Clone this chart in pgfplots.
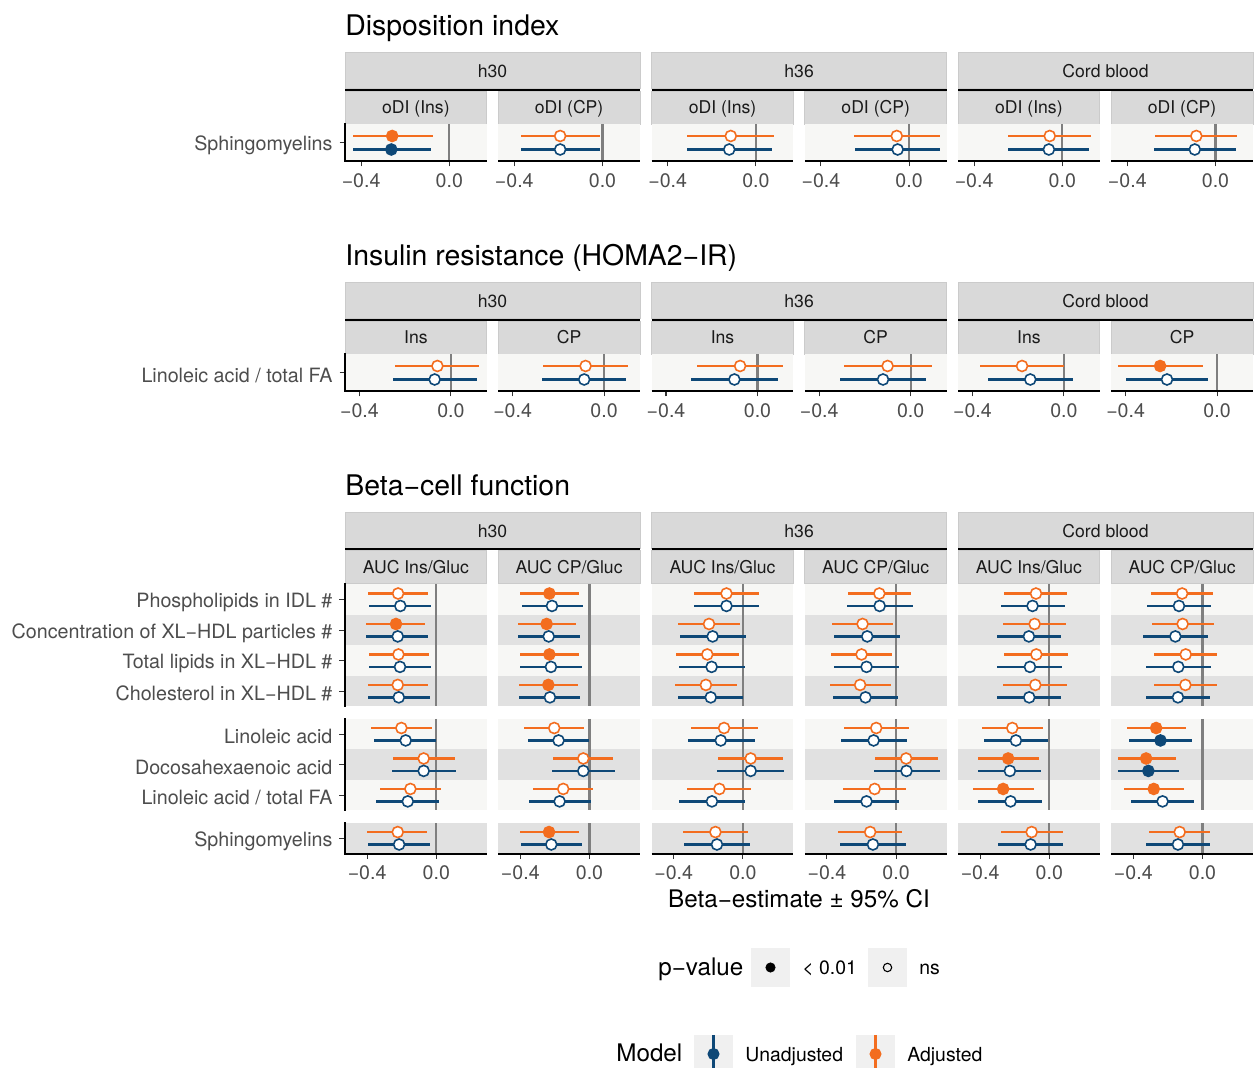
\documentclass[border=0pt]{standalone}
\usepackage{fontspec}
\setmainfont{TeX Gyre Heros}
\usepackage{pgfplots}
\pgfplotsset{compat=1.18}
\usepackage{pgfplotstable}

\definecolor{co}{HTML}{F36D1F}
\definecolor{cb}{HTML}{0E4877}
\definecolor{lbg}{HTML}{F7F7F5}
\definecolor{gbg}{HTML}{E1E1E1}
\definecolor{sbg}{HTML}{D9D9D9}
\definecolor{sbd}{HTML}{CBCBCB}
\definecolor{zc}{HTML}{7F7F7F}
\definecolor{labc}{HTML}{4D4D4D}
\definecolor{tickc}{HTML}{333333}
\definecolor{stc}{HTML}{1A1A1A}
\definecolor{kbg}{HTML}{F0F0F0}

\newcommand{\tickfont}{\fontsize{9.8pt}{11pt}\selectfont}
\newcommand{\ylabfont}{\fontsize{9.85pt}{11pt}\selectfont}
\newcommand{\stripfont}{\fontsize{8.8pt}{10pt}\selectfont}
\newcommand{\titlefont}{\fontsize{14.2pt}{16pt}\selectfont}
\newcommand{\legtfont}{\fontsize{12.1pt}{14pt}\selectfont}
\newcommand{\legfont}{\fontsize{9.7pt}{11pt}\selectfont}

% ---------- Section 1: Disposition index ----------
\pgfplotstableread{
y oe ol oh os be bl bh bs
0.5 -0.259 -0.437 -0.076 1 -0.263 -0.437 -0.084 1
}\dAa
\pgfplotstableread{
y oe ol oh os be bl bh bs
0.5 -0.192 -0.370 -0.011 0 -0.192 -0.370 -0.011 0
}\dAb
\pgfplotstableread{
y oe ol oh os be bl bh bs
0.5 -0.114 -0.311 0.082 0 -0.121 -0.311 0.072 0
}\dAc
\pgfplotstableread{
y oe ol oh os be bl bh bs
0.5 -0.056 -0.252 0.140 0 -0.052 -0.245 0.140 0
}\dAd
\pgfplotstableread{
y oe ol oh os be bl bh bs
0.5 -0.057 -0.247 0.129 0 -0.061 -0.247 0.122 0
}\dAe
\pgfplotstableread{
y oe ol oh os be bl bh bs
0.5 -0.087 -0.274 0.098 0 -0.094 -0.279 0.094 0
}\dAf
% ---------- Section 2: Insulin resistance ----------
\pgfplotstableread{
y oe ol oh os be bl bh bs
0.5 -0.059 -0.243 0.123 0 -0.071 -0.255 0.112 0
}\dBa
\pgfplotstableread{
y oe ol oh os be bl bh bs
0.5 -0.081 -0.265 0.104 0 -0.087 -0.271 0.096 0
}\dBb
\pgfplotstableread{
y oe ol oh os be bl bh bs
0.5 -0.076 -0.264 0.112 0 -0.101 -0.289 0.088 0
}\dBc
\pgfplotstableread{
y oe ol oh os be bl bh bs
0.5 -0.101 -0.291 0.091 0 -0.121 -0.307 0.069 0
}\dBd
\pgfplotstableread{
y oe ol oh os be bl bh bs
0.5 -0.183 -0.367 0.000 0 -0.147 -0.332 0.040 0
}\dBe
\pgfplotstableread{
y oe ol oh os be bl bh bs
0.5 -0.249 -0.433 -0.062 1 -0.219 -0.400 -0.038 0
}\dBf
% ---------- Section 3: Beta-cell function ----------
\pgfplotstableread{
y oe ol oh os be bl bh bs
0.5 -0.221 -0.396 -0.048 0 -0.208 -0.387 -0.029 0
1.5 -0.233 -0.408 -0.063 1 -0.223 -0.404 -0.048 0
2.5 -0.219 -0.390 -0.044 0 -0.210 -0.388 -0.031 0
3.5 -0.223 -0.396 -0.050 0 -0.217 -0.396 -0.038 0
4.9145 -0.202 -0.379 -0.027 0 -0.177 -0.362 0.000 0
5.9145 -0.073 -0.250 0.106 0 -0.073 -0.256 0.112 0
6.9145 -0.150 -0.327 0.027 0 -0.165 -0.348 0.015 0
8.329 -0.223 -0.400 -0.052 0 -0.215 -0.396 -0.035 0
}\dCa
\pgfplotstableread{
y oe ol oh os be bl bh bs
0.5 -0.232 -0.400 -0.059 1 -0.217 -0.392 -0.036 0
1.5 -0.248 -0.413 -0.078 1 -0.236 -0.411 -0.057 0
2.5 -0.232 -0.400 -0.061 1 -0.223 -0.400 -0.042 0
3.5 -0.238 -0.406 -0.067 1 -0.229 -0.406 -0.053 0
4.9145 -0.204 -0.377 -0.030 0 -0.179 -0.358 -0.004 0
5.9145 -0.036 -0.211 0.137 0 -0.036 -0.219 0.145 0
6.9145 -0.152 -0.326 0.019 0 -0.173 -0.352 0.008 0
8.329 -0.234 -0.400 -0.063 1 -0.221 -0.398 -0.042 0
}\dCb
\pgfplotstableread{
y oe ol oh os be bl bh bs
0.5 -0.095 -0.282 0.091 0 -0.095 -0.285 0.095 0
1.5 -0.196 -0.377 -0.017 0 -0.175 -0.363 0.017 0
2.5 -0.206 -0.388 -0.025 0 -0.181 -0.367 0.012 0
3.5 -0.214 -0.394 -0.033 0 -0.186 -0.373 0.002 0
4.9145 -0.109 -0.301 0.085 0 -0.128 -0.317 0.068 0
5.9145 0.045 -0.144 0.233 0 0.045 -0.150 0.237 0
6.9145 -0.136 -0.322 0.049 0 -0.179 -0.369 0.014 0
8.329 -0.159 -0.346 0.027 0 -0.150 -0.342 0.041 0
}\dCc
\pgfplotstableread{
y oe ol oh os be bl bh bs
0.5 -0.097 -0.280 0.085 0 -0.095 -0.285 0.095 0
1.5 -0.194 -0.371 -0.016 0 -0.167 -0.357 0.021 0
2.5 -0.200 -0.379 -0.023 0 -0.171 -0.359 0.017 0
3.5 -0.208 -0.384 -0.029 0 -0.177 -0.367 0.012 0
4.9145 -0.115 -0.303 0.076 0 -0.130 -0.320 0.062 0
5.9145 0.058 -0.122 0.245 0 0.060 -0.130 0.254 0
6.9145 -0.124 -0.309 0.060 0 -0.171 -0.361 0.019 0
8.329 -0.150 -0.334 0.035 0 -0.134 -0.326 0.056 0
}\dCd
\pgfplotstableread{
y oe ol oh os be bl bh bs
0.5 -0.077 -0.261 0.102 0 -0.097 -0.282 0.091 0
1.5 -0.085 -0.267 0.099 0 -0.118 -0.305 0.068 0
2.5 -0.075 -0.261 0.108 0 -0.112 -0.300 0.073 0
3.5 -0.081 -0.267 0.102 0 -0.116 -0.303 0.068 0
4.9145 -0.214 -0.392 -0.037 0 -0.193 -0.379 -0.010 0
5.9145 -0.238 -0.414 -0.062 1 -0.228 -0.412 -0.046 0
6.9145 -0.267 -0.444 -0.089 1 -0.224 -0.410 -0.043 0
8.329 -0.102 -0.280 0.081 0 -0.108 -0.296 0.081 0
}\dCe
\pgfplotstableread{
y oe ol oh os be bl bh bs
0.5 -0.118 -0.295 0.060 0 -0.136 -0.322 0.050 0
1.5 -0.115 -0.293 0.066 0 -0.157 -0.342 0.031 0
2.5 -0.097 -0.278 0.083 0 -0.140 -0.326 0.047 0
3.5 -0.099 -0.280 0.082 0 -0.142 -0.328 0.045 0
4.9145 -0.268 -0.439 -0.093 1 -0.243 -0.425 -0.060 1
5.9145 -0.326 -0.491 -0.155 1 -0.313 -0.491 -0.134 1
6.9145 -0.282 -0.454 -0.105 1 -0.231 -0.416 -0.049 0
8.329 -0.132 -0.311 0.045 0 -0.142 -0.326 0.045 0
}\dCf

\pgfplotsset{
 panel/.style={anchor=north west, scale only axis, width=70.9pt,
   axis line style={draw=none},
   xtick={-0.4,0}, xticklabels={−0.4,0.0},
   xtick pos=left, ytick pos=left, tick align=outside,
   major tick length=2.75pt,
   tick style={color=tickc, line width=0.55pt},
   xticklabel style={font=\tickfont, text=labc},
   yticklabel style={font=\ylabfont, text=labc, yshift=-1.3pt},
   ytick=\empty, clip=false},
 sA/.style={xmin=-0.473, xmax=0.170, ymin=-1, ymax=0, height=18.25pt},
 sB/.style={xmin=-0.463, xmax=0.157, ymin=-1, ymax=0, height=18.25pt},
 sC/.style={xmin=-0.528, xmax=0.292, ymin=-8.829, ymax=0, height=134.5pt},
}

% one model's estimates with CI; #1 table, #2 o/b, #3 vertical dodge
\newcommand{\ci}[3]{%
 \addplot[only marks, scatter, point meta=explicit symbolic,
   scatter/classes={0={mark=*, draw=c#2, fill=white}, 1={mark=*, draw=c#2, fill=c#2}},
   mark size=2.75pt, line width=0.8pt,
   error bars/.cd, x dir=both, x explicit, error mark=none,
   error bar style={line width=1.2pt, color=c#2, solid}]
  table[x=#2e, y expr=-\thisrow{y}+#3, meta=#2s,
   x error plus expr=\thisrow{#2h}-\thisrow{#2e},
   x error minus expr=\thisrow{#2e}-\thisrow{#2l}] {#1};
}
\newcommand{\bodyAB}[1]{%
 \fill[lbg] (rel axis cs:0,0) rectangle (rel axis cs:1,1);
 \draw[zc, line width=1.1pt] (axis cs:0,-1) -- (axis cs:0,0);
 \ci{#1}{o}{0.185}
 \ci{#1}{b}{-0.185}
 \draw[black, line width=1pt] (rel axis cs:0,0) -- (rel axis cs:1,0);
}
\newcommand{\leftAB}{\draw[black, line width=1pt, line cap=rect] (rel axis cs:0,0) -- (rel axis cs:0,1);}
\newcommand{\bodyC}[1]{%
 \fill[lbg] (axis cs:-0.528,0) rectangle (axis cs:0.292,-1);
 \fill[gbg] (axis cs:-0.528,-1) rectangle (axis cs:0.292,-2);
 \fill[lbg] (axis cs:-0.528,-2) rectangle (axis cs:0.292,-3);
 \fill[gbg] (axis cs:-0.528,-3) rectangle (axis cs:0.292,-4);
 \fill[lbg] (axis cs:-0.528,-4.4145) rectangle (axis cs:0.292,-5.4145);
 \fill[gbg] (axis cs:-0.528,-5.4145) rectangle (axis cs:0.292,-6.4145);
 \fill[lbg] (axis cs:-0.528,-6.4145) rectangle (axis cs:0.292,-7.4145);
 \fill[gbg] (axis cs:-0.528,-7.829) rectangle (axis cs:0.292,-8.829);
 \draw[zc, line width=1.1pt] (axis cs:0,0) -- (axis cs:0,-4);
 \draw[zc, line width=1.1pt] (axis cs:0,-4.4145) -- (axis cs:0,-7.4145);
 \draw[zc, line width=1.1pt] (axis cs:0,-7.829) -- (axis cs:0,-8.829);
 \ci{#1}{o}{0.204}
 \ci{#1}{b}{-0.204}
 \draw[black, line width=1pt] (rel axis cs:0,0) -- (rel axis cs:1,0);
}
\newcommand{\leftC}{%
 \draw[black, line width=1pt, line cap=rect] (axis cs:-0.528,0) -- (axis cs:-0.528,-4);
 \draw[black, line width=1pt, line cap=rect] (axis cs:-0.528,-4.4145) -- (axis cs:-0.528,-7.4145);
 \draw[black, line width=1pt, line cap=rect] (axis cs:-0.528,-7.829) -- (axis cs:-0.528,-8.829);
}

% strips (px coordinates inside a scope with x=0.5pt,y=-0.5pt)
\newcommand{\istrip}[3]{%
 \filldraw[fill=sbg, draw=sbd, line width=0.5pt] (#1,#2+38.5) rectangle ++(141.8,33);
 \node[stc, font=\stripfont, anchor=base, inner sep=0pt] at (#1+70.9,#2+60.8) {#3};
}
\newcommand{\strips}[3]{%
 \foreach \gx/\gl in {345/h30, 651.6/h36, 958/Cord blood} {
   \filldraw[fill=sbg, draw=sbd, line width=0.5pt] (\gx,#1) rectangle ++(295,36);
   \node[stc, font=\stripfont, anchor=base, inner sep=0pt] at (\gx+147.5,#1+24.8) {\gl};
   \draw[black, line width=1pt] (\gx,#1+36.8) -- ++(295,0);
 }
 \istrip{345}{#1}{#2}\istrip{498.2}{#1}{#3}
 \istrip{651.6}{#1}{#2}\istrip{804.8}{#1}{#3}
 \istrip{958}{#1}{#2}\istrip{1111.2}{#1}{#3}
}

\begin{document}
\begin{tikzpicture}
\path[use as bounding box] (0pt,0pt) rectangle (627pt,-534pt);

\begin{scope}[x=0.5pt,y=-0.5pt]
 \node[anchor=base west, inner sep=0pt, font=\titlefont] at (345,35.5) {Disposition index};
 \node[anchor=base west, inner sep=0pt, font=\titlefont] at (345,265.5) {Insulin resistance (HOMA2−IR)};
 \node[anchor=base west, inner sep=0pt, font=\titlefont] at (345,495.5) {Beta−cell function};
 \strips{53}{oDI (Ins)}{oDI (CP)}
 \strips{283}{Ins}{CP}
 \strips{512.5}{AUC Ins/Gluc}{AUC CP/Gluc}
 \node[anchor=base, inner sep=0pt, font=\legtfont] at (799,907.5) {Beta−estimate ± 95\% CI};
 % legends
 \node[anchor=base west, inner sep=0pt, font=\legtfont] at (658,975.5) {p−value};
 \fill[kbg] (751,948) rectangle (790,987);
 \fill[kbg] (868,948) rectangle (907,987);
 \node[anchor=base west, inner sep=0pt, font=\legfont] at (802,975) {< 0.01};
 \node[anchor=base west, inner sep=0pt, font=\legfont] at (919,975) {ns};
 \node[anchor=base west, inner sep=0pt, font=\legtfont] at (616,1062) {Model};
 \fill[kbg] (694,1035) rectangle (733,1074);
 \fill[kbg] (856,1035) rectangle (895,1074);
 \node[anchor=base west, inner sep=0pt, font=\legfont] at (745,1061.5) {Unadjusted};
 \node[anchor=base west, inner sep=0pt, font=\legfont] at (907,1061.5) {Adjusted};
\end{scope}

% ---- Section 1 ----
\begin{axis}[panel, sA, at={(172.5pt,-62.25pt)}, ytick={-0.5}, yticklabels={Sphingomyelins}]
 \bodyAB{\dAa}\leftAB
\end{axis}
\begin{axis}[panel, sA, at={(249.1pt,-62.25pt)}]\bodyAB{\dAb}\end{axis}
\begin{axis}[panel, sA, at={(325.8pt,-62.25pt)}]\bodyAB{\dAc}\end{axis}
\begin{axis}[panel, sA, at={(402.4pt,-62.25pt)}]\bodyAB{\dAd}\end{axis}
\begin{axis}[panel, sA, at={(479pt,-62.25pt)}]\bodyAB{\dAe}\end{axis}
\begin{axis}[panel, sA, at={(555.6pt,-62.25pt)}]\bodyAB{\dAf}\end{axis}

% ---- Section 2 ----
\begin{axis}[panel, sB, at={(172.5pt,-177.25pt)}, ytick={-0.5}, yticklabels={Linoleic acid / total FA}]
 \bodyAB{\dBa}\leftAB
\end{axis}
\begin{axis}[panel, sB, at={(249.1pt,-177.25pt)}]\bodyAB{\dBb}\end{axis}
\begin{axis}[panel, sB, at={(325.8pt,-177.25pt)}]\bodyAB{\dBc}\end{axis}
\begin{axis}[panel, sB, at={(402.4pt,-177.25pt)}]\bodyAB{\dBd}\end{axis}
\begin{axis}[panel, sB, at={(479pt,-177.25pt)}]\bodyAB{\dBe}\end{axis}
\begin{axis}[panel, sB, at={(555.6pt,-177.25pt)}]\bodyAB{\dBf}\end{axis}

% ---- Section 3 ----
\begin{axis}[panel, sC, at={(172.5pt,-292.25pt)},
  ytick={-0.5,-1.5,-2.5,-3.5,-4.9145,-5.9145,-6.9145,-8.329},
  yticklabels={Phospholipids in IDL \#, Concentration of XL−HDL particles \#, Total lipids in XL−HDL \#, Cholesterol in XL−HDL \#, Linoleic acid, Docosahexaenoic acid, Linoleic acid / total FA, Sphingomyelins}]
 \bodyC{\dCa}\leftC
\end{axis}
\begin{axis}[panel, sC, at={(249.1pt,-292.25pt)}]\bodyC{\dCb}\end{axis}
\begin{axis}[panel, sC, at={(325.8pt,-292.25pt)}]\bodyC{\dCc}\end{axis}
\begin{axis}[panel, sC, at={(402.4pt,-292.25pt)}]\bodyC{\dCd}\end{axis}
\begin{axis}[panel, sC, at={(479pt,-292.25pt)}]\bodyC{\dCe}\end{axis}
\begin{axis}[panel, sC, at={(555.6pt,-292.25pt)}]\bodyC{\dCf}\end{axis}

% ---- legend keys ----
\begin{axis}[at={(0pt,0pt)}, anchor=north west, scale only axis, width=627pt, height=534pt,
  xmin=0, xmax=1254, ymin=-1068, ymax=0, hide axis, clip=false]
 \addplot[only marks, mark=*, mark size=2.3pt, black] coordinates {(770.5,-967.5)};
 \addplot[only marks, mark=o, mark size=2.1pt, black, line width=0.55pt] coordinates {(887.5,-967.5)};
 \addplot[cb, line width=1.1pt] coordinates {(713.5,-1035) (713.5,-1074)};
 \addplot[only marks, mark=*, mark size=2.8pt, cb] coordinates {(713.5,-1054)};
 \addplot[co, line width=1.1pt] coordinates {(875.5,-1035) (875.5,-1074)};
 \addplot[only marks, mark=*, mark size=2.8pt, co] coordinates {(875.5,-1054)};
\end{axis}
\end{tikzpicture}
\end{document}
